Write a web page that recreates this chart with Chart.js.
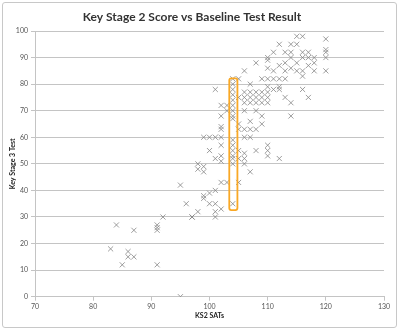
<!DOCTYPE html>
<html>
<head>
<meta charset="utf-8">
<script src="https://cdn.jsdelivr.net/npm/chart.js@4.4.1/dist/chart.umd.min.js"></script>
<style>
  html, body { margin: 0; padding: 0; background: #fff; }
  #wrap { position: relative; width: 400px; height: 333px; }
  #frame {
    position: absolute; left: 2px; top: 2px; width: 393px; height: 324px;
    border: 1px solid #c8c8c8; border-radius: 3px; pointer-events: none;
  }
  canvas { position: absolute; left: 0; top: 0; }
</style>
</head>
<body>
<div id="wrap">
  <canvas id="scoreChart" width="400" height="333"></canvas>
  <div id="frame"></div>
</div>
<script>
// KS2 SATs score (x) against Key Stage 3 test (y), one entry per pupil
const ks2Scores = [
  83, 84, 85, 86, 86, 87, 87,
  91, 91, 91, 91, 92, 95, 95, 96, 97, 97,
  98, 98, 98, 99, 99, 99, 99, 99,
  100, 100, 100, 100,
  101, 101, 101, 101, 101, 101, 101,
  102, 102, 102, 102, 102, 102, 102, 102, 102, 102,
  103, 103, 103,
  104, 104, 104, 104, 104, 104, 104, 104, 104, 104, 104, 104, 104, 104, 104, 104,
  105, 105, 105, 105, 105, 105, 105,
  106, 106, 106, 106, 106, 106, 106, 106, 106, 106,
  107, 107, 107, 107, 107, 107, 107, 107,
  108, 108, 108, 108, 108, 108, 108,
  109, 109, 109, 109, 109, 109,
  110, 110, 110, 110, 110, 110, 110, 110, 110, 110, 110,
  111, 111, 111, 111,
  112, 112, 112, 112, 112, 112,
  113, 113, 113, 113, 113,
  114, 114, 114, 114, 114, 114,
  115, 115, 115, 115,
  116, 116, 116, 116, 116, 116,
  117, 117, 117, 117,
  118, 118, 118,
  120, 120, 120, 120, 120
];
const ks3Scores = [
  18, 27, 12, 17, 15, 15, 25,
  27, 26, 25, 12, 30, 42, 0, 35, 30, 30,
  32, 50, 48, 38, 37, 49, 47, 60,
  39, 35, 55, 60,
  40, 35, 32, 30, 52, 60, 78,
  33, 43, 51, 53, 57, 60, 63, 64, 68, 72,
  43, 70, 72,
  35, 50, 52, 53, 55, 57, 59, 67, 68, 70, 72, 74, 76, 78, 80, 82,
  43, 52, 55, 63, 65, 75, 82,
  50, 52, 54, 60, 63, 70, 73, 75, 77, 85,
  47, 60, 63, 66, 73, 75, 77, 80,
  55, 63, 70, 73, 75, 77, 88,
  65, 68, 73, 75, 77, 82,
  53, 55, 57, 73, 75, 77, 79, 82, 86, 89, 90,
  78, 82, 85, 92,
  52, 78, 79, 82, 87, 95,
  75, 82, 85, 88, 92,
  68, 73, 86, 90, 92, 95,
  85, 88, 95, 98,
  78, 83, 85, 90, 92, 98,
  75, 87, 90, 92,
  85, 88, 90,
  85, 90, 92, 93, 97
];

// axis ranges and tick values
const xTicks = [70, 80, 90, 100, 110, 120, 130];
const yTicks = [0, 10, 20, 30, 40, 50, 60, 70, 80, 90, 100];

// highlighted column of pupils scoring 104 at KS2
const highlightX = [103.4, 104.8];
const highlightY = [32.6, 82.2];

const points = ks2Scores.map((x, i) => ({ x: x, y: ks3Scores[i] }));

const fontFamily = "Lato, 'Open Sans', sans-serif";
const tickFont = { family: fontFamily, size: 7 };
const gridColor = "#c4c4c4";

// Rounded orange outline drawn through the chart scales
const highlightBox = {
  id: "highlightBox",
  afterDatasetsDraw(chart) {
    const { ctx, scales } = chart;
    const left = scales.x.getPixelForValue(highlightX[0]);
    const right = scales.x.getPixelForValue(highlightX[1]);
    const top = scales.y.getPixelForValue(highlightY[1]);
    const bottom = scales.y.getPixelForValue(highlightY[0]);
    ctx.save();
    ctx.strokeStyle = "#f9a825";
    ctx.lineWidth = 1.8;
    ctx.beginPath();
    ctx.roundRect(left, top, right - left, bottom - top, 2);
    ctx.stroke();
    ctx.restore();
  },
};

const ctx = document.getElementById("scoreChart").getContext("2d");
new Chart(ctx, {
  type: "scatter",
  data: {
    datasets: [
      {
        label: "Pupils",
        data: points,
        pointStyle: "crossRot",
        pointRadius: 3.6,
        borderColor: "#858585",
        borderWidth: 0.8,
        backgroundColor: "#858585",
      },
    ],
  },
  options: {
    responsive: false,
    animation: false,
    events: [],
    layout: { padding: { left: 0, right: 16, top: 0, bottom: 8 } },
    plugins: {
      legend: { display: false },
      tooltip: { enabled: false },
      title: {
        display: true,
        text: "Key Stage 2 Score vs Baseline Test Result",
        color: "#333",
        font: { family: fontFamily, size: 12, weight: "bold" },
        padding: { top: 10, bottom: 6.6 },
      },
    },
    scales: {
      x: {
        type: "linear",
        min: xTicks[0],
        max: xTicks[xTicks.length - 1],
        afterBuildTicks: (scale) => {
          scale.ticks = xTicks.map((v) => ({ value: v }));
        },
        afterFit: (scale) => {
          scale.height = 28.3;
        },
        grid: { drawOnChartArea: false, drawTicks: true, tickLength: 4, color: gridColor },
        border: { display: true, color: gridColor },
        ticks: { font: tickFont, color: "#555", padding: 2, maxRotation: 0 },
        title: {
          display: true,
          text: "KS2 SATs",
          font: { family: fontFamily, size: 7, weight: "bold" },
          color: "#222",
          padding: { top: 0, bottom: 5 },
        },
      },
      y: {
        type: "linear",
        min: yTicks[0],
        max: yTicks[yTicks.length - 1],
        afterBuildTicks: (scale) => {
          scale.ticks = yTicks.map((v) => ({ value: v }));
        },
        afterFit: (scale) => {
          scale.width = 35;
        },
        grid: { drawTicks: true, tickLength: 4, color: gridColor },
        border: { display: true, color: gridColor },
        ticks: { font: tickFont, color: "#555", padding: 3 },
        title: {
          display: true,
          text: "Key Stage 3 Test",
          font: { family: fontFamily, size: 7, weight: "bold" },
          color: "#222",
          padding: { top: 9, bottom: 0 },
        },
      },
    },
  },
  plugins: [highlightBox],
});
</script>
</body>
</html>
